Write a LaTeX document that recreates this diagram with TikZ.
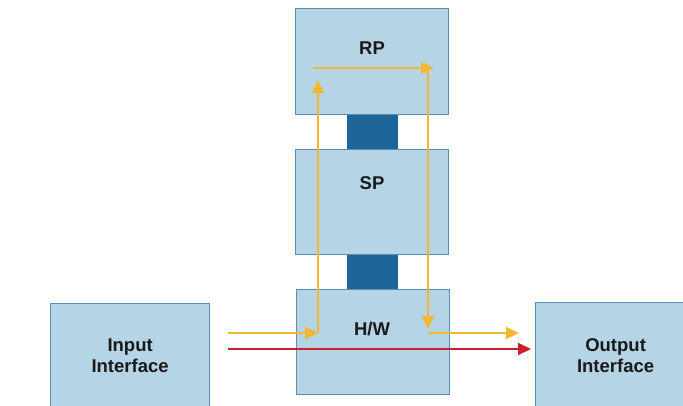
\documentclass[tikz,border=0pt]{standalone}
\usepackage{fontspec}
\setmainfont{Liberation Sans}
\usetikzlibrary{arrows.meta}
\definecolor{boxfill}{HTML}{B5D4E6}
\definecolor{boxline}{HTML}{5B8DB3}
\definecolor{link}{HTML}{1E6699}
\definecolor{flow}{HTML}{F4B731}
\definecolor{fast}{HTML}{C9222E}
\definecolor{txt}{HTML}{1A1A1A}
\tikzset{
  unit/.style={draw=boxline, line width=1.2pt, fill=boxfill, inner sep=0pt, text=txt,
    font=\bfseries\fontsize{18.5}{21}\selectfont, align=center},
  lbl/.style={text=txt, font=\bfseries\fontsize{18.5}{21}\selectfont},
  bus/.style={fill=link, draw=none},
  yel/.style={draw=flow, line width=2pt, -{Triangle[length=13pt,width=12pt]}},
  red/.style={draw=fast, line width=2pt, -{Triangle[length=13pt,width=12pt]}}
}
\begin{document}
\begin{tikzpicture}[x=1pt,y=-1pt]
\useasboundingbox (0,0) rectangle (683,405);
\clip (0,0) rectangle (683,405);
\fill[white] (0,0) rectangle (683,405);
% buses
\fill[bus] (347,113) rectangle (398,150);
\fill[bus] (347,253) rectangle (398,290);
% boxes
\node[unit, minimum width=153pt, minimum height=106pt, anchor=north west] (rp) at (295,8) {};
\node[lbl] (rpl) at (372,48) {RP};
\node[unit, minimum width=153pt, minimum height=105pt, anchor=north west] (sp) at (295,149) {};
\node[lbl] (spl) at (372,183) {SP};
\node[unit, minimum width=153pt, minimum height=105pt, anchor=north west] (hw) at (296,289) {};
\node[lbl] (hwl) at (372,329) {H/W};
\node[unit, minimum width=159pt, minimum height=105pt, anchor=north west] (in) at (50,303) {Input\\Interface};
\node[unit, minimum width=160pt, minimum height=106pt, anchor=north west] (out) at (535,302) {Output\\Interface};
% flow coordinates
\coordinate (a0) at (228,333);
\coordinate (a1) at (318,333);
\coordinate (a2) at (318,80);
\coordinate (b0) at (313,68);
\coordinate (b1) at (434,68);
\coordinate (c0) at (428,68);
\coordinate (c1) at (428,329);
\coordinate (d0) at (428,333);
\coordinate (d1) at (519,333);
\coordinate (r0) at (228,349);
\coordinate (r1) at (531,349);
% yellow path
\draw[yel] (a0) -- (a1);
\draw[yel] (a1) -- (a2);
\draw[yel] (b0) -- (b1);
\draw[yel] (c0) -- (c1);
\draw[yel] (d0) -- (d1);
% red path
\draw[red] (r0) -- (r1);
\end{tikzpicture}
\end{document}
